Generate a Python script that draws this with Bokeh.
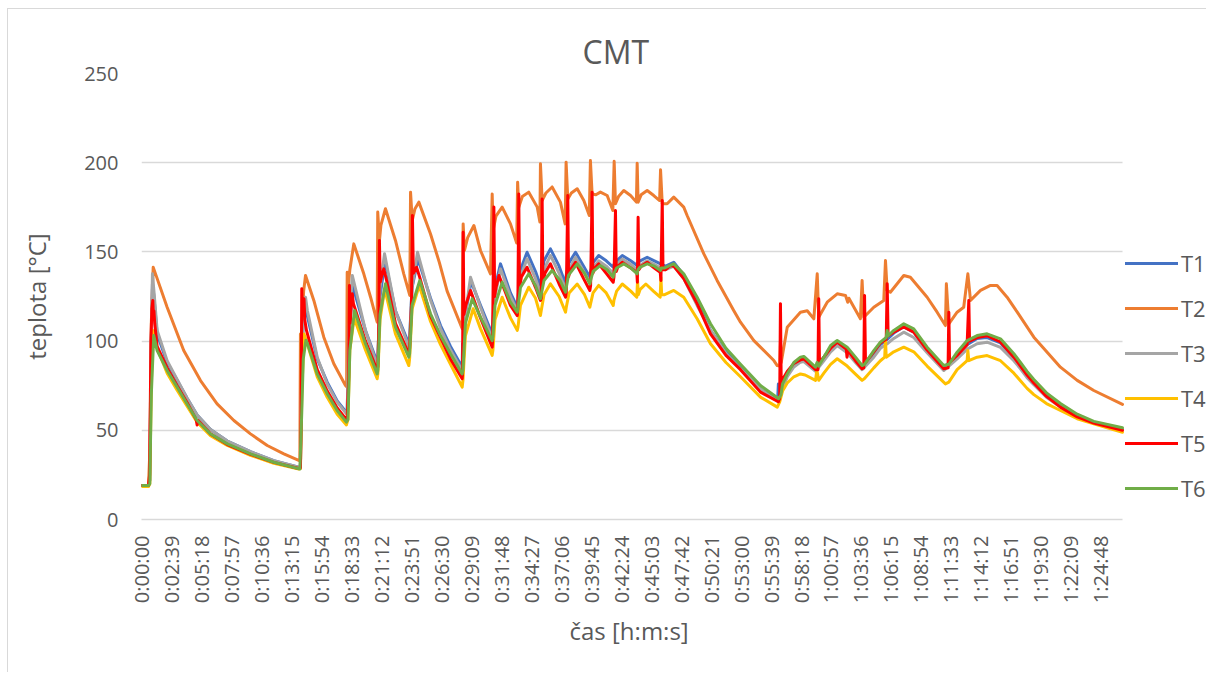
import math
from bokeh.plotting import figure
from bokeh.models import Range1d, FixedTicker, Legend, LegendItem, Title
from bokeh.embed import file_html
from bokeh.resources import INLINE

# ---------------- data ----------------
title_text = "CMT"
x_label = "čas [h:m:s]"
y_label = "teplota [°C]"
series_names = ["T1", "T2", "T3", "T4", "T5", "T6"]
series_colors = ["#4472C4", "#ED7D31", "#A5A5A5", "#FFC000", "#FF0000", "#70AD47"]
tick_labels = ["0:00:00", "0:02:39", "0:05:18", "0:07:57", "0:10:36", "0:13:15", "0:15:54",
               "0:18:33", "0:21:12", "0:23:51", "0:26:30", "0:29:09", "0:31:48", "0:34:27",
               "0:37:06", "0:39:45", "0:42:24", "0:45:03", "0:47:42", "0:50:21", "0:53:00",
               "0:55:39", "0:58:18", "1:00:57", "1:03:36", "1:06:15", "1:08:54", "1:11:33",
               "1:14:12", "1:16:51", "1:19:30", "1:22:09", "1:24:48"]
tick_step_s = 159
x_end_s = 5203
y_ticks = [0, 50, 100, 150, 200, 250]

# (time [s], temperature [°C])
T1 = [(0,19),(37,19),(44,22),(52,100),(58,132),(65,126),(83,104),(136,88),(189,78),(242,68),(295,58.5),(366,50.5),(455,44),(578,38),(702,33),(834,29.3),
      (843,29.5),(850,80),(858,115),(870,120),(880,114),(932,90),(985,77),(1038,66.5),(1087,60),
      (1091,61),(1100,100),(1120,131),(1188,106),(1250,88.2),
      (1254,92),(1265,125),(1292,145),(1347,117),(1418,98.5),
      (1422,102),(1435,130),(1467,146),(1533,124),(1586,108.7),(1639,97),(1701,85.4),
      (1703,98.5),(1707,88),(1718,115),(1748,133.5),(1798,120),(1860,104),
      (1862,108),(1875,130),(1904,143.3),(1957,127),(1993,119),
      (1996,123),(2010,140),(2045,149.8),(2090,139),(2116,131),
      (2120,134),(2135,145),(2169,151.7),(2215,142),(2249,132),
      (2253,137),(2268,144),(2302,149.8),(2345,142),(2378,135.8),
      (2382,139),(2395,144),(2425,148),(2465,145),(2502,141.4),
      (2506,143),(2520,145),(2550,148),(2595,145),(2629,142.4),
      (2633,144),(2645,145),(2682,147),(2720,145),(2753,143.3),
      (2757,143),(2780,142),(2823,144.2),(2876,137),(2947,122),(3018,106),(3100,94),(3177,85),(3283,73),(3374,67),
      (3378,76),(3382,68),(3400,75),(3425,82),(3460,87),(3495,89.5),(3513,90),(3575,84),(3600,88),(3619,91),(3655,96),(3690,99),
      (3743,95),(3787,89.5),(3822,85),(3884,93),(3919,98),(3955,101),(3990,104.5),(4043,108),(4096,105),(4167,95),(4255,85),
      (4326,92.5),(4379,98),(4432,101.5),(4485,102),(4556,99),(4627,90.5),(4662,85.5),(4697,80.5),(4733,76.5),(4800,69.5),
      (4874,63.5),(4963,58),(5051,54.5),(5203,50.5)]

T2 = [(0,19),(37,19),(45,40),(52,110),(62,141.4),(80,136),(136,119),(224,94.7),(313,77.9),(401,64.8),(490,55.5),(578,48),(667,41.5),(755,36.8),(834,33.1),
      (840,34),(843,104),(847,100),(852,112),(860,128),(870,136.8),(914,122.8),(967,102.2),(1020,87.3),(1082,75.1),(1088,74.5),
      (1091,138.6),(1096,130),(1105,140),(1126,154.5),(1179,137.7),(1215,124.6),(1250,110.6),
      (1253,172.3),(1262,156.4),(1270,165),(1294,174.2),(1347,156.4),(1391,137.7),(1423,125.6),
      (1427,183.5),(1436,167.6),(1450,174),(1471,177.9),(1533,160),(1580,144),(1621,128),(1701,106.9),
      (1706,165.7),(1713,150.8),(1730,158),(1763,164.8),(1798,150.8),(1851,137.7),
      (1860,182.5),(1865,162),(1880,170),(1913,175.1),(1957,165.7),(1990,155),
      (1995,189),(2001,175),(2020,181),(2054,183.5),(2099,175.1),(2113,166.7),
      (2116,199.4),(2125,178.8),(2145,183),(2178,186.4),(2222,177.9),(2247,165.7),
      (2252,200.3),(2261,179.7),(2280,183),(2311,185.4),(2346,178.8),(2375,170.4),
      (2381,201.2),(2390,182.5),(2410,182),(2434,183.5),(2470,181.6),(2500,173.2),
      (2507,200.8),(2514,177),(2530,181),(2558,184.4),(2594,181.6),(2625,177.9),
      (2629,199.7),(2634,177.9),(2650,182),(2682,184.4),(2717,181.6),(2748,178.8),
      (2753,196),(2762,177),(2788,177),(2823,180.7),(2876,175.1),(2894,170.4),(2982,149),(3053,134),(3141,117.2),(3177,110.6),
      (3248,100.3),(3354,89.1),(3372,86.3),
      (3385,86),(3389,100),(3393,88),(3425,107.8),(3495,116.2),(3531,117),(3566,112.5),(3584,137.7),(3592,113.4),(3637,121.8),
      (3690,126.5),(3734,125.6),(3746,121.8),(3752,124),(3813,112.5),(3822,134),(3831,113.4),(3884,119),(3937,122.8),(3946,145.2),
      (3955,128.4),(3972,127.4),(4043,136.8),(4078,135.8),(4167,124.6),(4220,116.2),(4264,108.7),(4269,132.1),(4282,109.7),
      (4326,116.2),(4361,119),(4383,137.7),(4397,122.8),(4450,128.4),(4503,131.2),(4538,131.2),(4591,124.6),(4645,116.2),
      (4733,102.2),(4874,85.4),(4963,78),(5051,72.3),(5203,64.5)]

T3 = [(0,19),(37,19),(44,22),(50,90),(58,137.7),(66,128),(83,106),(136,89),(189,78.5),(242,68),(295,58.5),(366,50.5),(455,44),(578,38),(702,33),(834,29.3),
      (843,29.5),(850,85),(860,118),(870,124.6),(880,117),(932,91),(985,76),(1038,65.8),(1087,59.3),
      (1091,60),(1100,105),(1118,136.8),(1188,106),(1250,86.3),
      (1254,90),(1265,130),(1289,149),(1347,117),(1418,96.6),
      (1422,100),(1435,130),(1464,149.8),(1533,123),(1586,107),(1639,95),(1701,83.5),
      (1705,87),(1718,115),(1745,135.8),(1798,119),(1860,101),
      (1864,105),(1875,125),(1904,140.5),(1957,125),(1993,117),
      (1996,121),(2010,136),(2045,146.1),(2090,135),(2116,127),
      (2120,130),(2135,140),(2169,148),(2215,138),(2249,129),
      (2253,133),(2268,140),(2302,147),(2345,139),(2378,133),
      (2382,136),(2395,141),(2425,145),(2465,142),(2502,138),
      (2506,140),(2520,143),(2550,146),(2595,143),(2629,140),
      (2633,141),(2645,142.5),(2682,145),(2720,143),(2753,141),
      (2757,141),(2780,140),(2823,142),(2876,135),(2947,120),(3018,106),(3100,93),(3177,84.5),(3283,73),(3378,66),
      (3385,67.5),(3400,73),(3425,80),(3460,85.5),(3495,88.2),(3513,88.5),(3575,83),(3619,89),(3655,94),(3690,97.5),(3743,93.5),
      (3787,88),(3822,84),(3884,91),(3919,96),(3955,98.5),(3990,101.5),(4043,105),(4096,102),(4167,93.5),(4255,83.5),(4326,90),
      (4379,95.5),(4432,98.5),(4485,99.4),(4556,96.5),(4627,89),(4662,84.5),(4697,79.5),(4733,75.5),(4800,68.5),(4874,63),
      (4963,57.5),(5051,54),(5203,50.5)]

T4 = [(0,18.5),(37,18.5),(44,20),(52,75),(60,106),(83,96),(136,82),(189,72.5),(242,63.5),(295,54.5),(366,47),(455,41.5),(578,36),(702,31.5),(834,28.3),
      (843,28.5),(850,70),(862,104),(875,100),(932,80),(985,68.5),(1038,59),(1087,53),
      (1095,56),(1105,95),(1128,113),(1188,95),(1250,78.9),
      (1254,82),(1265,112),(1290,129.3),(1347,104),(1418,86.3),
      (1422,90),(1435,118),(1473,131.2),(1533,111),(1586,98),(1639,87),(1701,74.2),
      (1705,78),(1718,103),(1759,118.1),(1798,107),(1860,92),
      (1864,95),(1875,112),(1913,124.6),(1957,113),(1993,106),
      (1997,108),(2010,120),(2054,130.2),(2090,124),(2116,114.3),
      (2120,117),(2135,126),(2169,132.1),(2215,125),(2249,116.2),
      (2253,119),(2268,127),(2311,132),(2350,126),(2378,119),
      (2382,121),(2395,127),(2425,131.2),(2465,127),(2502,120),
      (2506,123),(2520,128),(2550,132),(2595,128),(2627,124.6),
      (2631,134),(2635,126),(2645,129),(2675,132),(2715,128),(2751,124.6),
      (2755,135.8),(2759,126),(2775,126),(2823,128.4),(2876,124.6),(2947,112.5),(3018,98.5),(3100,88),(3177,80),(3283,68.6),(3372,63),
      (3385,66),(3400,72),(3425,76.5),(3460,80),(3495,81.6),(3520,81),(3575,78),(3582,84),(3592,78),(3619,82),(3655,87),(3690,90.1),
      (3743,86),(3787,81.5),(3822,78),(3835,79),(3884,85),(3919,89),(3942,91),(3946,101),(3950,91),(3990,94),(4043,96.6),(4096,94),
      (4167,86),(4264,76),(4282,77),(4326,84),(4379,89),(4383,94.7),(4388,89),(4432,91),(4485,91.9),(4556,89),(4627,82),(4697,73.5),
      (4733,70),(4800,65),(4874,61.1),(4963,56.5),(5051,53.6),(5203,48.9)]

T5 = [(0,19),(37,19),(43,25),(50,100),(55,118),(60,122.8),(63,114),(66,117),(70,110),(83,97),(136,85),(189,75),(242,65.5),(290,56),(295,53),(300,55.5),
      (366,48),(455,42),(578,36.5),(702,32),(834,28.6),
      (843,29),(847,60),(850,129.3),(854,115),(858,118),(862,123.7),(866,112),(875,106),(932,84),(985,72),(1038,62.5),(1087,56),
      (1091,57),(1099,80),(1103,131.2),(1107,110),(1112,120),(1118,126.5),(1124,121),(1188,100),(1250,83.5),
      (1254,86),(1259,110),(1262,156.4),(1266,133),(1275,137),(1285,140.5),(1300,134),(1347,110),(1418,92.9),
      (1422,96),(1432,120),(1437,170.4),(1442,138),(1459,141.4),(1475,136),(1533,114),(1586,102),(1639,90),(1701,78.9),
      (1703,82),(1706,161),(1710,115),(1720,120),(1745,128.4),(1798,113),(1860,96.6),
      (1862,100),(1869,175.1),(1873,125),(1880,130),(1896,136.8),(1957,120),(1993,114.3),
      (1996,118),(2001,182.5),(2005,130),(2015,136),(2045,141.4),(2090,130),(2116,122.8),
      (2120,124),(2125,179.7),(2129,133),(2140,138),(2169,143.3),(2215,132),(2249,124.6),
      (2253,127),(2261,181.6),(2265,136),(2275,140),(2302,144.2),(2345,135),(2378,128.4),
      (2382,131),(2390,183.5),(2394,138),(2405,141),(2425,143.3),(2465,138),(2502,133),
      (2506,136),(2514,173.2),(2518,139),(2528,142),(2550,144.2),(2595,141),(2627,138.6),
      (2630,133),(2634,169.4),(2638,140),(2650,142),(2682,144.2),(2720,141),(2751,138.6),
      (2755,134),(2762,178.8),(2766,140),(2780,140),(2806,142.4),(2823,142),(2876,135),(2947,121),(3018,104),(3100,92),(3177,84),
      (3283,71.4),(3378,66),
      (3385,68),(3389,121),(3393,76),(3398,78),(3425,83),(3460,87.5),(3495,89.5),(3513,90),(3575,84),(3588,84),(3592,123.7),(3596,88),
      (3619,91),(3655,96),(3690,99.4),(3738,95.5),(3742,91),(3746,95),(3787,89),(3822,84.5),(3831,85),(3835,125.6),(3840,88),(3884,94),
      (3919,99),(3950,101),(3955,132.1),(3960,103),(3990,105),(4043,108),(4096,105),(4167,95),(4255,84.5),(4278,85),(4282,116.2),
      (4286,88),(4326,92),(4379,98),(4388,122.8),(4392,100),(4432,102),(4485,103),(4556,99.5),(4627,91),(4662,86),(4697,81),
      (4733,76.5),(4800,69),(4874,63),(4963,57.5),(5051,54),(5203,50)]

T6 = [(0,19),(37,19),(44,20),(52,70),(65,103.1),(83,94.7),(136,83.5),(189,74.2),(242,64.8),(295,55.5),(366,48),(455,42.4),(578,36.8),(702,32.1),(840,28.3),
      (850,60),(858,90),(872,100.5),(879,99),(932,81.6),(985,70.5),(1038,61.1),(1087,54.6),
      (1095,56),(1105,95),(1130,117.2),(1188,98.5),(1250,81.6),
      (1254,84),(1265,115),(1294,132.1),(1347,107.8),(1418,91),
      (1422,93),(1435,120),(1476,134),(1533,115.3),(1586,103.1),(1639,92.9),(1701,81.6),
      (1705,84),(1718,110),(1754,123.7),(1798,113.4),(1860,100.3),
      (1864,103),(1875,120),(1913,133),(1957,121.8),(1993,116.2),
      (1997,119),(2010,130),(2054,137.7),(2090,131),(2116,123.7),
      (2120,126),(2135,134),(2178,139.6),(2220,134),(2249,127.4),
      (2253,130),(2265,137),(2311,143.3),(2350,138),(2378,132),
      (2382,134),(2395,139),(2434,142.4),(2470,140),(2502,135.8),
      (2506,138),(2520,141),(2558,143.3),(2595,141),(2629,137.7),
      (2633,140),(2645,141.5),(2682,143.3),(2720,142),(2753,139.6),
      (2757,141),(2775,141),(2823,143.3),(2876,137.7),(2947,124.6),(3018,109.7),(3100,96),(3177,87),(3283,75.1),(3380,67.7),
      (3392,70),(3400,76),(3425,81.6),(3460,88),(3495,91),(3513,91.4),(3575,85.4),(3583,88),(3592,86),(3619,91),(3655,97.5),
      (3690,100.3),(3743,96.6),(3787,91),(3822,86.3),(3835,87),(3884,94.7),(3919,99.4),(3950,102),(3955,106),(3960,103),(3990,106),
      (4043,109.7),(4096,106.9),(4167,96.6),(4255,86.3),(4282,87),(4326,93.8),(4379,100.3),(4432,103.1),(4485,104.1),(4556,101.3),
      (4627,92.9),(4662,88),(4697,83),(4733,78.5),(4800,71),(4874,65),(4963,59),(5051,55),(5203,51.4)]

series_data = [T1, T2, T3, T4, T5, T6]

# ---------------- figure ----------------
TXT = "#595959"
GRID = "#D9D9D9"
FONT = "Open Sans"

# the frame extends to the right edge so the legend can live inside it
x_view_end = 5654

p = figure(width=1199, height=664, output_backend="svg", toolbar_location=None,
           x_range=Range1d(0, x_view_end), y_range=Range1d(0, 250),
           min_border_left=133, min_border_right=0, min_border_top=64, min_border_bottom=154,
           styles={"margin-left": "7px", "margin-top": "8px",
                   "border-left": "1px solid #D9D9D9", "border-top": "1px solid #D9D9D9"})
p.outline_line_color = None
p.background_fill_color = "white"
p.border_fill_color = "white"
p.xgrid.grid_line_color = None

# horizontal gridlines limited to the data span
grid_done = False
try:
    for g in p.ygrid:
        g.cross_bounds = (0, x_end_s)
    grid_done = True
except Exception:
    grid_done = False
if grid_done:
    p.ygrid.ticker = FixedTicker(ticks=y_ticks)
    p.ygrid.grid_line_color = GRID
    p.ygrid.grid_line_width = 1.5
else:
    p.ygrid.grid_line_color = None
    grid_levels = [v for v in y_ticks if v > 0]
    p.segment(x0=[0] * len(grid_levels), y0=grid_levels, x1=[x_end_s] * len(grid_levels), y1=grid_levels,
              line_color=GRID, line_width=1.5)

renderers = []
for name, color, data in zip(series_names, series_colors, series_data):
    xs = [d[0] for d in data]
    ys = [d[1] for d in data]
    r = p.line(xs, ys, line_color=color, line_width=3, line_join="round", line_cap="round")
    renderers.append(r)

# title
p.title.text = title_text
p.title.align = "left"
p.title.offset = 441
p.title.text_font = FONT
p.title.text_font_size = "32px"
p.title.text_font_style = "normal"
p.title.text_color = TXT
p.title.standoff = 2

# x axis
tick_pos = [i * tick_step_s for i in range(len(tick_labels))]
p.xaxis.ticker = FixedTicker(ticks=tick_pos)
p.xaxis.bounds = (0, x_end_s)
p.xaxis.major_label_overrides = {t: lab for t, lab in zip(tick_pos, tick_labels)}
p.xaxis.major_label_orientation = math.pi / 2
p.xaxis.axis_line_color = GRID
p.xaxis.axis_line_width = 1.5
p.xaxis.major_tick_line_color = None
p.xaxis.minor_tick_line_color = None
p.xaxis.major_tick_out = 0
p.xaxis.major_tick_in = 0
p.xaxis.minor_tick_out = 0
p.xaxis.major_label_standoff = 16
p.xaxis.major_label_text_font = FONT
p.xaxis.major_label_text_font_size = "20px"
p.xaxis.major_label_text_color = TXT

# x axis title (placed under the data span, not under the whole frame)
x_title = Title(text=x_label, align="left", offset=428, vertical_align="top", standoff=14,
                text_font=FONT, text_font_size="24px", text_font_style="normal", text_color=TXT)
p.add_layout(x_title, "below")

# y axis
p.yaxis.ticker = FixedTicker(ticks=y_ticks)
p.yaxis.axis_line_color = None
p.yaxis.major_tick_line_color = None
p.yaxis.minor_tick_line_color = None
p.yaxis.major_tick_out = 0
p.yaxis.major_tick_in = 0
p.yaxis.minor_tick_out = 0
p.yaxis.major_label_standoff = 23
p.yaxis.major_label_text_font = FONT
p.yaxis.major_label_text_font_size = "20px"
p.yaxis.major_label_text_color = TXT
p.yaxis.axis_label = y_label
p.yaxis.axis_label_text_font = FONT
p.yaxis.axis_label_text_font_size = "24px"
p.yaxis.axis_label_text_font_style = "normal"
p.yaxis.axis_label_text_color = TXT
p.yaxis.axis_label_standoff = 28

# legend
legend = Legend(items=[LegendItem(label=n, renderers=[r]) for n, r in zip(series_names, renderers)],
                location=(984, 16), orientation="vertical",
                padding=0, margin=0, spacing=15, glyph_width=53, glyph_height=20,
                label_height=20, label_standoff=3,
                label_text_font=FONT, label_text_font_size="22px", label_text_color=TXT,
                border_line_color=None, background_fill_alpha=0)
p.add_layout(legend)

open("out.html", "w").write(file_html(p, INLINE))
